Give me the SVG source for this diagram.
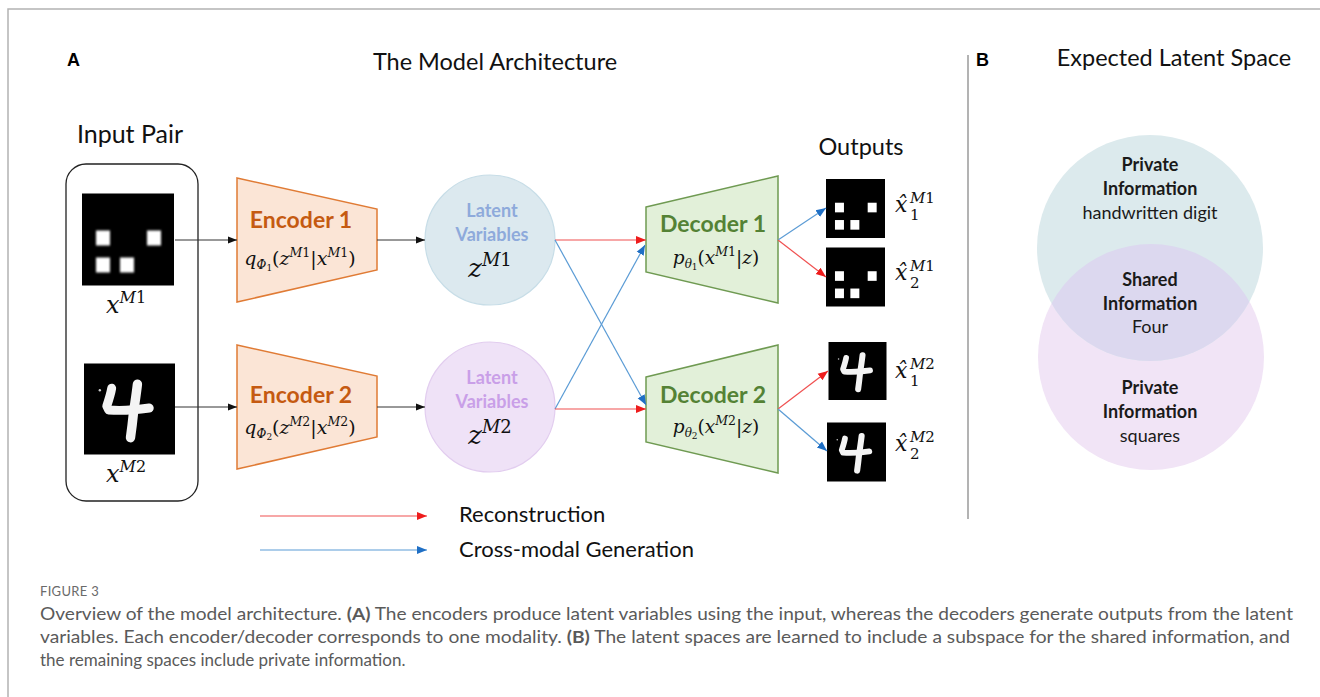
<svg xmlns="http://www.w3.org/2000/svg" xmlns:xlink="http://www.w3.org/1999/xlink" width="1320" height="697" viewBox="0 0 1320 697">
  <style>
    .sans { font-family: Lato, "Open Sans", "Liberation Sans", sans-serif; fill: #111; }
    .head { font-size: 23.5px; }
    .panel { font-family: "Liberation Sans", Arial, sans-serif; font-weight: bold; font-size: 18px; fill: #000; }
    .math { font-family: "DejaVu Serif", "Liberation Serif", serif; font-style: italic; fill: #111; }
    .up { font-style: normal; }
    .enc { fill: #fbe5d6; stroke: #e07b35; stroke-width: 1.5; }
    .enc-t { font-family: Lato, "Open Sans", sans-serif; font-weight: bold; font-size: 23px; fill: #c55a11; }
    .dec { fill: #e2f0d9; stroke: #6f9a52; stroke-width: 1.5; }
    .dec-t { font-family: Lato, "Open Sans", sans-serif; font-weight: bold; font-size: 23px; fill: #548235; }
    .lat-t { font-family: Lato, "Open Sans", sans-serif; font-weight: bold; font-size: 18px; }
    .venn { font-family: Lato, "Open Sans", sans-serif; font-size: 18px; fill: #1a1a1a; }
    .bold { font-weight: bold; }
    .cap { font-family: Lato, "Open Sans", sans-serif; font-size: 17px; fill: #5a5a5a; }
    .frame { stroke: #b3b3b3; stroke-width: 1.5; fill: none; }
    .k { stroke: #333; stroke-width: 1; fill: none; }
    .r { stroke: #f05050; stroke-width: 1.2; fill: none; }
    .b { stroke: #5a9bd5; stroke-width: 1.2; fill: none; }
  </style>
  <defs>
    <marker id="ah-k" viewBox="0 0 10 10" refX="10" refY="5" markerWidth="9" markerHeight="9" markerUnits="userSpaceOnUse" orient="auto">
      <path d="M0,1 L10,5 L0,9 z" fill="#111"/>
    </marker>
    <marker id="ah-r" viewBox="0 0 10 10" refX="10" refY="5" markerWidth="10" markerHeight="10" markerUnits="userSpaceOnUse" orient="auto">
      <path d="M0,1 L10,5 L0,9 z" fill="#ee1c1c"/>
    </marker>
    <marker id="ah-b" viewBox="0 0 10 10" refX="10" refY="5" markerWidth="10" markerHeight="10" markerUnits="userSpaceOnUse" orient="auto">
      <path d="M0,1 L10,5 L0,9 z" fill="#1f6fc5"/>
    </marker>
    <filter id="soft" x="-10%" y="-10%" width="120%" height="120%">
      <feGaussianBlur stdDeviation="0.8"/>
    </filter>
    <!-- black tile with four white squares (modality 1) -->
    <symbol id="squares" viewBox="0 0 92 92">
      <rect width="92" height="92" fill="#000"/>
      <g fill="#fff" filter="url(#soft)">
        <rect x="14" y="37" width="14" height="15"/>
        <rect x="65" y="37" width="14" height="15"/>
        <rect x="14" y="64" width="14" height="15"/>
        <rect x="38" y="64" width="14" height="15"/>
      </g>
    </symbol>
    <!-- black tile with a handwritten four (modality 2) -->
    <symbol id="four" viewBox="0 0 92 92">
      <rect width="92" height="92" fill="#000"/>
      <g filter="url(#soft)">
        <path d="M28,25 C27,31 25,37 23,43 L25,47 C38,48 52,47 66,45" stroke="#f4f4f4" stroke-width="9" stroke-linecap="round" stroke-linejoin="round" fill="none"/>
        <path d="M54,21 C53,30 52,36 50,50 C49,60 48,68 47,75" stroke="#f4f4f4" stroke-width="9.5" stroke-linecap="round" fill="none"/>
        <circle cx="16" cy="27" r="1.2" fill="#ccc"/>
      </g>
    </symbol>
    <clipPath id="topCircle">
      <circle cx="1150" cy="248" r="113"/>
    </clipPath>
  </defs>

  <!-- page frame -->
  <path class="frame" d="M8,697 V9 H1320"/>
  <line x1="968" y1="55" x2="968" y2="519" stroke="#9a9a9a" stroke-width="1.5"/>

  <!-- headings -->
  <text class="panel" x="67" y="66">A</text>
  <text class="sans head" x="495" y="70" text-anchor="middle">The Model Architecture</text>
  <text class="panel" x="976" y="66">B</text>
  <text class="sans head" x="1174" y="66" text-anchor="middle">Expected Latent Space</text>
  <text class="sans" x="130" y="143" text-anchor="middle" font-size="25">Input Pair</text>
  <text class="sans head" x="861" y="155" text-anchor="middle">Outputs</text>

  <!-- input pair -->
  <g id="input-pair">
    <rect x="66" y="164" width="132" height="337" rx="20" ry="20" fill="#fff" stroke="#222" stroke-width="1.3"/>
    <use xlink:href="#squares" x="82" y="193" width="92" height="93"/>
    <text class="math" x="106" y="313" font-size="24">x<tspan font-size="16" dy="-10">M</tspan><tspan class="up" font-size="16">1</tspan></text>
    <use xlink:href="#four" x="84" y="363" width="91" height="92"/>
    <text class="math" x="106" y="482" font-size="24">x<tspan font-size="16" dy="-10">M</tspan><tspan class="up" font-size="16">2</tspan></text>
  </g>

  <!-- encoders -->
  <g id="encoder-1">
    <polygon class="enc" points="237,178 377,209 377,270 237,302"/>
    <text class="enc-t" x="301" y="228" text-anchor="middle">Encoder 1</text>
    <text class="math" x="300" y="265" text-anchor="middle" font-size="19">q<tspan font-size="12" dy="4">Φ</tspan><tspan class="up" font-size="9" dy="2">1</tspan><tspan class="up" dy="-6">(</tspan>z<tspan font-size="12.5" dy="-8">M</tspan><tspan class="up" font-size="12.5">1</tspan><tspan class="up" dy="8">|</tspan>x<tspan font-size="12.5" dy="-8">M</tspan><tspan class="up" font-size="12.5">1</tspan><tspan class="up" dy="8">)</tspan></text>
  </g>
  <g id="encoder-2">
    <polygon class="enc" points="237,345 377,376 377,437 237,469"/>
    <text class="enc-t" x="301" y="403" text-anchor="middle">Encoder 2</text>
    <text class="math" x="300" y="434" text-anchor="middle" font-size="19">q<tspan font-size="12" dy="4">Φ</tspan><tspan class="up" font-size="9" dy="2">2</tspan><tspan class="up" dy="-6">(</tspan>z<tspan font-size="12.5" dy="-8">M</tspan><tspan class="up" font-size="12.5">2</tspan><tspan class="up" dy="8">|</tspan>x<tspan font-size="12.5" dy="-8">M</tspan><tspan class="up" font-size="12.5">2</tspan><tspan class="up" dy="8">)</tspan></text>
  </g>

  <!-- latent variables -->
  <g id="latent-1">
    <circle cx="490" cy="240" r="65" fill="#dce9ef" stroke="#c7dde7" stroke-width="1.2"/>
    <text x="492" y="217" text-anchor="middle" class="lat-t" fill="#8eaadb">Latent</text>
    <text x="492" y="241" text-anchor="middle" class="lat-t" fill="#8eaadb">Variables</text>
    <text class="math" x="490" y="277" text-anchor="middle" font-size="26">z<tspan font-size="18" dy="-11">M</tspan><tspan class="up" font-size="18">1</tspan></text>
  </g>
  <g id="latent-2">
    <circle cx="490" cy="407" r="65" fill="#efe2f7" stroke="#e2cdef" stroke-width="1.2"/>
    <text x="492" y="384" text-anchor="middle" class="lat-t" fill="#c99fe8">Latent</text>
    <text x="492" y="408" text-anchor="middle" class="lat-t" fill="#c99fe8">Variables</text>
    <text class="math" x="490" y="444" text-anchor="middle" font-size="26">z<tspan font-size="18" dy="-11">M</tspan><tspan class="up" font-size="18">2</tspan></text>
  </g>

  <!-- decoders -->
  <g id="decoder-1">
    <polygon class="dec" points="646,207 778,176 778,303 646,272"/>
    <text class="dec-t" x="713" y="232" text-anchor="middle">Decoder 1</text>
    <text class="math" x="716" y="264" text-anchor="middle" font-size="18.5">p<tspan font-size="12" dy="4">θ</tspan><tspan class="up" font-size="9" dy="2">1</tspan><tspan class="up" dy="-6">(</tspan>x<tspan font-size="12.5" dy="-8">M</tspan><tspan class="up" font-size="12.5">1</tspan><tspan class="up" dy="8">|</tspan>z<tspan class="up">)</tspan></text>
  </g>
  <g id="decoder-2">
    <polygon class="dec" points="646,377 778,345 778,473 646,442"/>
    <text class="dec-t" x="713" y="403" text-anchor="middle">Decoder 2</text>
    <text class="math" x="716" y="433" text-anchor="middle" font-size="18.5">p<tspan font-size="12" dy="4">θ</tspan><tspan class="up" font-size="9" dy="2">2</tspan><tspan class="up" dy="-6">(</tspan>x<tspan font-size="12.5" dy="-8">M</tspan><tspan class="up" font-size="12.5">2</tspan><tspan class="up" dy="8">|</tspan>z<tspan class="up">)</tspan></text>
  </g>

  <!-- outputs -->
  <g id="output-1-1">
    <use xlink:href="#squares" x="826" y="179" width="59" height="59"/>
    <text class="math" x="895" y="212" font-size="22">x̂</text>
    <text class="math" x="910" y="203" font-size="15">M<tspan class="up">1</tspan></text>
    <text class="math up" x="910" y="220" font-size="15">1</text>
  </g>
  <g id="output-1-2">
    <use xlink:href="#squares" x="826" y="247" width="59" height="60"/>
    <text class="math" x="895" y="280" font-size="22">x̂</text>
    <text class="math" x="910" y="271" font-size="15">M<tspan class="up">1</tspan></text>
    <text class="math up" x="910" y="288" font-size="15">2</text>
  </g>
  <g id="output-2-1">
    <use xlink:href="#four" x="828" y="342" width="59" height="58"/>
    <text class="math" x="895" y="378" font-size="22">x̂</text>
    <text class="math" x="910" y="369" font-size="15">M<tspan class="up">2</tspan></text>
    <text class="math up" x="910" y="386" font-size="15">1</text>
  </g>
  <g id="output-2-2">
    <use xlink:href="#four" x="827" y="422" width="59" height="60"/>
    <text class="math" x="895" y="451" font-size="22">x̂</text>
    <text class="math" x="910" y="442" font-size="15">M<tspan class="up">2</tspan></text>
    <text class="math up" x="910" y="459" font-size="15">2</text>
  </g>

  <!-- connectors -->
  <g id="connectors">
    <line class="k" x1="175" y1="240" x2="237" y2="240" marker-end="url(#ah-k)"/>
    <line class="k" x1="175" y1="407" x2="237" y2="407" marker-end="url(#ah-k)"/>
    <line class="k" x1="377" y1="240" x2="425" y2="240" marker-end="url(#ah-k)"/>
    <line class="k" x1="377" y1="407" x2="425" y2="407" marker-end="url(#ah-k)"/>
    <line class="r" x1="555" y1="240" x2="646" y2="240" marker-end="url(#ah-r)"/>
    <line class="b" x1="555" y1="240" x2="646" y2="405" marker-end="url(#ah-b)"/>
    <line class="b" x1="555" y1="409" x2="645" y2="245" marker-end="url(#ah-b)"/>
    <line class="r" x1="555" y1="409" x2="646" y2="409" marker-end="url(#ah-r)"/>
    <line class="b" x1="778" y1="240" x2="826" y2="208" marker-end="url(#ah-b)"/>
    <line class="r" x1="778" y1="240" x2="826" y2="277" marker-end="url(#ah-r)"/>
    <line class="r" x1="778" y1="409" x2="828" y2="371" marker-end="url(#ah-r)"/>
    <line class="b" x1="778" y1="409" x2="827" y2="451" marker-end="url(#ah-b)"/>
  </g>

  <!-- legend -->
  <g id="legend">
    <line class="r" x1="260" y1="516" x2="427" y2="516" marker-end="url(#ah-r)"/>
    <text class="sans" x="459" y="522" font-size="22">Reconstruction</text>
    <line class="b" x1="260" y1="550" x2="427" y2="550" marker-end="url(#ah-b)"/>
    <text class="sans" x="459" y="557" font-size="22">Cross-modal Generation</text>
  </g>

  <!-- expected latent space -->
  <g id="latent-space">
    <circle cx="1151" cy="357" r="113" fill="#f1e4f6"/>
    <circle cx="1150" cy="248" r="113" fill="#dceaed"/>
    <circle cx="1151" cy="357" r="113" fill="#dcd8ef" clip-path="url(#topCircle)"/>
    <text class="venn bold" x="1150" y="171" text-anchor="middle">Private</text>
    <text class="venn bold" x="1150" y="195" text-anchor="middle">Information</text>
    <text class="venn" x="1150" y="219" text-anchor="middle">handwritten digit</text>
    <text class="venn bold" x="1150" y="286" text-anchor="middle">Shared</text>
    <text class="venn bold" x="1150" y="310" text-anchor="middle">Information</text>
    <text class="venn" x="1150" y="333" text-anchor="middle">Four</text>
    <text class="venn bold" x="1150" y="394" text-anchor="middle">Private</text>
    <text class="venn bold" x="1150" y="418" text-anchor="middle">Information</text>
    <text class="venn" x="1150" y="442" text-anchor="middle">squares</text>
  </g>

  <!-- caption -->
  <g id="caption">
    <text class="cap" x="40" y="596" style="font-size:13px;letter-spacing:0.3px;fill:#6a6a6a">FIGURE 3</text>
    <text class="cap" x="40" y="620" textLength="1253" lengthAdjust="spacingAndGlyphs">Overview of the model architecture. <tspan class="bold">(A)</tspan> The encoders produce latent variables using the input, whereas the decoders generate outputs from the latent</text>
    <text class="cap" x="40" y="643" textLength="1250" lengthAdjust="spacingAndGlyphs">variables. Each encoder/decoder corresponds to one modality. <tspan class="bold">(B)</tspan> The latent spaces are learned to include a subspace for the shared information, and</text>
    <text class="cap" x="40" y="666">the remaining spaces include private information.</text>
  </g>
</svg>
